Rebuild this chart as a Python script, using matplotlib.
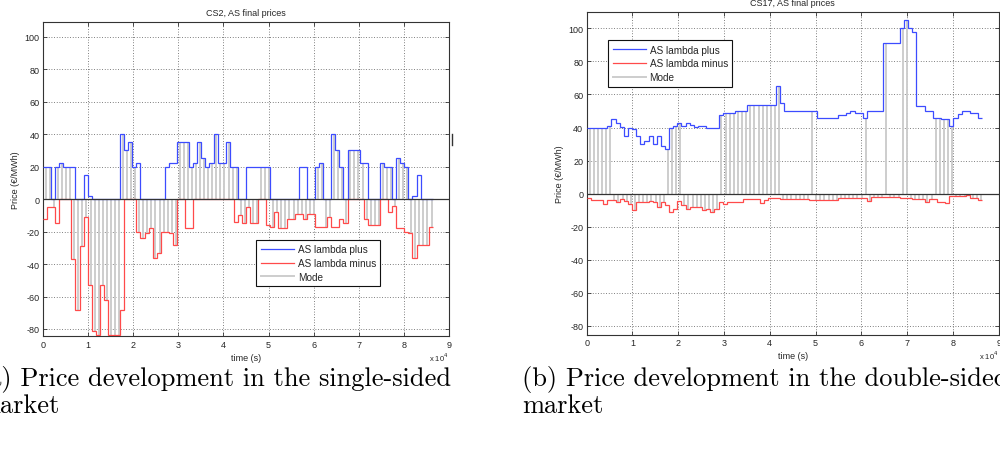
import numpy as np
import matplotlib
matplotlib.use("Agg")
import matplotlib.pyplot as plt
from matplotlib.lines import Line2D

# ---------------- data (15-min intervals, 900 s each) ----------------
STEP = 900
xtick_labels = ["0", "1", "2", "3", "4", "5", "6", "7", "8", "9"]
ytick_vals = [-80, -60, -40, -20, 0, 20, 40, 60, 80, 100]
series_names = ["AS lambda plus", "AS lambda minus", "Mode"]

# Chart (a): CS2 single-sided market
cs2_plus = [20, 20, 0, 20, 22, 20, 20, 20, 0, 0,
            15, 2, 0, 0, 0, 0, 0, 0, 0, 40,
            30, 35, 20, 22, 0, 0, 0, 0, 0, 0,
            20, 22, 22, 35, 35, 35, 20, 22, 35, 25,
            20, 22, 40, 22, 22, 35, 20, 20, 0, 0,
            20, 20, 20, 20, 20, 20, 0, 0, 0, 0,
            0, 0, 0, 20, 20, 0, 0, 20, 22, 0,
            0, 40, 30, 20, 0, 30, 30, 30, 22, 22,
            0, 0, 0, 22, 20, 20, 0, 25, 22, 20,
            0, 2, 15, 0, 0, 0]
cs2_minus = [-12, -5, -5, -15, 0, 0, 0, -37, -68, -29,
             -11, -53, -81, -84, -53, -62, -84, -84, -84, -68,
             0, 0, 0, -20, -24, -21, -18, -36, -33, -20,
             -20, -21, -28, 0, 0, -18, -18, 0, 0, 0,
             0, 0, 0, 0, 0, 0, 0, -14, -10, -15,
             -5, -15, -15, 0, 0, -16, -17, -8, -18, -18,
             -12, -12, -9, -9, -12, -9, -9, -17, -17, -17,
             -11, -17, -17, -12, -15, 0, 0, 0, 0, -12,
             -16, -16, -16, 0, 0, -8, -4, -18, -18, -20,
             -21, -36, -28, -28, -28, -17]
# +1: mode bar up to lambda plus, -1: down to lambda minus, 0: none
cs2_mode = [1, 1, -1, 1, 1, 1, 1, -1, -1, -1,
            -1, -1, -1, -1, -1, -1, -1, -1, -1, 1,
            1, 1, 1, -1, -1, -1, -1, -1, -1, -1,
            -1, -1, -1, 1, 1, 1, 1, 1, 1, 1,
            1, 1, 1, 1, 1, 1, 1, 1, -1, -1,
            -1, -1, -1, 1, 1, 1, -1, -1, -1, -1,
            -1, -1, -1, -1, -1, -1, -1, 1, 1, -1,
            -1, 1, 1, 1, -1, 1, 1, 1, 1, -1,
            -1, -1, -1, 1, 1, 1, -1, 1, 1, 1,
            -1, -1, -1, -1, -1, -1]

# Chart (b): CS17 double-sided market
cs17_plus = [40, 40, 40, 40, 40, 41, 45, 43, 40.5, 35,
             40, 39, 35, 30, 32, 35, 30, 35, 29, 27,
             40, 41, 43, 41, 43, 41.5, 40.5, 41, 41, 40,
             40, 40, 47.5, 49, 49, 49, 50, 50, 50, 53.5,
             53.5, 53.5, 53.5, 53.5, 53.5, 53.5, 65, 55, 50, 50,
             50, 50, 50, 50, 50, 50, 46, 46, 46, 46,
             46, 47.5, 47.5, 48.5, 50, 49, 48.5, 46, 50, 50,
             50, 50, 91, 91, 91, 91, 100, 105, 100, 97.5,
             53, 53, 50, 50, 46, 46, 45, 45, 41, 46,
             48, 50, 50, 48.5, 48.5, 46]
cs17_minus = [-2.5, -4, -4, -4, -6, -4, -4, -5, -3, -4.5,
              -6.5, -10, -5, -5, -5, -4.5, -5, -8, -5, -7,
              -11, -9, -4.5, -7, -9, -8, -8, -8, -10, -9,
              -11, -9, -5, -6, -5, -5, -5, -5, -3.5, -3.5,
              -3, -3, -5.5, -4, -2.5, -2.5, -2.5, -3.5, -3.5, -3.5,
              -3.5, -3.5, -3.5, -3.5, -4, -4, -4, -4, -4, -4,
              -4, -2.5, -2.5, -2.5, -2.5, -2.5, -2.5, -2.5, -4.5, -2,
              -2, -2, -2, -2, -2, -2, -2.5, -2.5, -2.5, -3.5,
              -3.5, -3.5, -5, -3, -3, -5, -5, -5.5, -1.5, -1.5,
              -1.5, -1.5, -1, -2.5, -2.5, -4]
cs17_mode = [1, 1, 1, 1, 1, 1, -1, -1, -1, -1,
             -1, -1, -1, -1, -1, -1, -1, -1, -1, 1,
             1, 1, 1, -1, -1, -1, -1, -1, -1, -1,
             -1, -1, 1, 1, 1, 1, 1, 1, 1, 1,
             1, 1, 1, 1, 1, 1, 1, -1, -1, -1,
             -1, -1, -1, -1, 1, -1, -1, -1, -1, -1,
             -1, -1, -1, -1, -1, -1, -1, 1, -1, -1,
             -1, -1, 1, -1, -1, -1, 1, 1, -1, -1,
             -1, -1, -1, -1, 1, 1, 1, 1, 1, -1,
             -1, -1, -1, -1, -1, -1]

captions = [["(a) Price development in the single-sided", "market"],
            ["(b) Price development in the double-sided", "market"]]

# ---------------- styling ----------------
BLUE = "#3c4cff"
RED = "#ff4a4a"
GRAY = "#cdcdcd"
TXT = "#262626"
plt.rcParams["font.family"] = ["Liberation Sans", "DejaVu Sans"]

W, H = 1000, 452
fig = plt.figure(figsize=(W / 100, H / 100), dpi=100)


def px_rect(x0, y0, x1, y1):
    return [x0 / W, 1 - y1 / H, (x1 - x0) / W, (y1 - y0) / H]


def panel(rect, plus, minus, mode, ylim, title, leg_anchor):
    ax = fig.add_axes(rect)
    n = len(plus)
    edges = np.arange(n + 1) * STEP
    p = np.asarray(plus, float)
    m = np.asarray(minus, float)
    md = np.asarray(mode)
    heights = np.where(md > 0, p, np.where(md < 0, m, 0.0))
    sel = md != 0
    xs = edges[:-1] + 0.7 * STEP
    ax.vlines(xs[sel], 0, heights[sel], color=GRAY, lw=1.4, zorder=2)
    ax.stairs(p, edges, color=BLUE, lw=0.9, baseline=None, zorder=3)
    ax.stairs(m, edges, color=RED, lw=0.9, baseline=None, zorder=3)
    ax.axhline(0, color="#333333", lw=0.9, zorder=4)

    ax.set_xlim(0, 9e4)
    ax.set_ylim(*ylim)
    ax.set_xticks(np.arange(len(xtick_labels)) * 1e4)
    ax.set_xticklabels(xtick_labels)
    ax.set_yticks(ytick_vals)
    ax.set_yticklabels([str(v) for v in ytick_vals])
    ax.tick_params(direction="in", top=True, right=True, length=3, width=0.6,
                   labelsize=6.5, labelcolor=TXT, color="#333333", pad=2.5)
    ax.grid(True, linestyle=(0, (1, 2.2)), color="#555555", lw=0.6)
    for s in ax.spines.values():
        s.set_color("#333333")
        s.set_linewidth(0.8)
    ax.set_title(title, fontsize=6.5, color=TXT, pad=5)
    ax.set_xlabel("time (s)", fontsize=6.5, color=TXT, labelpad=3)
    ax.set_ylabel("Price (€/MWh)", fontsize=6.5, color=TXT, labelpad=3)
    ax.annotate("x 10$^4$", xy=(1.0, 0), xycoords="axes fraction",
                xytext=(0, -14.5), textcoords="offset points", ha="right",
                va="center", fontsize=5.5, color=TXT)
    handles = [Line2D([], [], color=BLUE, lw=0.9),
               Line2D([], [], color=RED, lw=0.9),
               Line2D([], [], color=GRAY, lw=1.4)]
    leg = ax.legend(handles, series_names, loc="upper left",
                    bbox_to_anchor=leg_anchor, fontsize=7.2, frameon=True,
                    fancybox=False, edgecolor="#111111", framealpha=1,
                    handlelength=3.3, handletextpad=0.4, labelspacing=0.38,
                    borderpad=0.45, borderaxespad=0)
    leg.get_frame().set_linewidth(0.8)
    for t in leg.get_texts():
        t.set_color(TXT)
    return ax


axA = panel(px_rect(43, 22.7, 449, 337.3), cs2_plus, cs2_minus, cs2_mode,
            (-84.5, 109.2), "CS2, AS final prices", (0.525, 0.307))
axB = panel(px_rect(586.7, 13.3, 998.7, 335.7), cs17_plus, cs17_minus, cs17_mode,
            (-85.3, 109.7), "CS17, AS final prices", (0.052, 0.914))

# small stray mark right of panel (a)
fig.add_artist(Line2D([452 / W, 452 / W], [1 - 135 / H, 1 - 146 / H],
                      color="#333333", lw=1.0))

# captions (two lines each, serif like the LaTeX document)
for x0, lines in zip([-22, 521.7], captions):
    for k, line in enumerate(lines):
        fig.text(x0 / W, 1 - (386 + 27 * k) / H, line,
                 fontfamily="cmr10", fontsize=19, va="baseline", ha="left",
                 color="black")

fig.savefig("out.png", dpi=100)
